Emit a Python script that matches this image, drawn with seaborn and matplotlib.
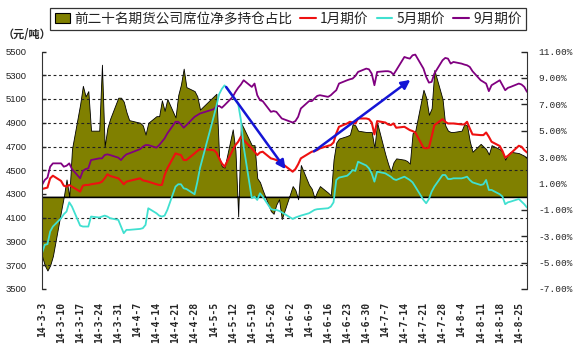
import numpy as np
import pandas as pd
import matplotlib
matplotlib.use("Agg")
import matplotlib.pyplot as plt
from matplotlib.patches import Patch
from matplotlib.lines import Line2D
import seaborn as sns

# trading days 2014-03-03 .. 2014-08-28 (Qingming, Labour day, Dragon boat closed)
holidays = ["2014-04-07", "2014-05-01", "2014-05-02", "2014-06-02"]
start_date, end_date = "2014-03-03", "2014-08-28"

# net long ratio of top-20 futures brokers, %  (one row per week)
net_long = [
    -4.5, -5.2, -5.6, -5.2, -4.5,
    -1.1, 0.0, 1.3, 0.0, 3.6,
    7.0, 8.4, 7.6, 8.0, 5.0,
    5.0, 10.0, 3.8, 5.2, 5.9,
    7.5, 7.5, 7.2, 6.4, 5.8,
    5.6, 5.4, 4.7, 5.6,
    6.1, 6.1, 7.3, 6.5, 7.4,
    6.0, 7.7, 8.5, 9.7, 8.3,
    8.0, 7.6, 6.6,
    7.6, 7.8, 3.0, 2.3, 2.2,
    5.1, 3.5, -1.5, 5.6, 5.2,
    3.9, 3.9, 1.4, 1.1, 0.5,
    -1.1, -1.3, -0.6, -0.2, -1.7,
    0.8, 0.5, -0.2, 2.4,
    0.9, 0.6, -0.1, 0.4, 0.8,
    0.3, 0.1, 2.8, 4.1, 4.4,
    4.6, 4.7, 5.5, 5.4, 5.0,
    4.9, 4.9, 4.9, 3.7, 5.6,
    3.2, 2.5, 1.9, 2.6, 2.9,
    2.8, 2.7, 2.5, 4.8, 5.0,
    8.1, 7.5, 6.2, 6.7, 9.6,
    7.4, 5.4, 5.0, 4.9, 4.9,
    5.0, 5.5, 5.4, 4.2, 3.4,
    4.0, 3.8, 3.6, 3.2, 3.9,
    3.6, 3.4, 2.8, 3.2, 3.4,
    3.3, 3.2, 3.1, 2.9,
]

# January contract price, yuan/t
jan_price = [
    4342, 4348, 4354, 4432, 4454,
    4410, 4370, 4362, 4376, 4362,
    4320, 4370, 4376, 4376, 4382,
    4393, 4404, 4432, 4466, 4452,
    4432, 4410, 4382, 4404, 4410,
    4432, 4415, 4410, 4404,
    4382, 4376, 4376, 4460, 4516,
    4642, 4634, 4628, 4586, 4586,
    4642, 4662, 4678,
    4670, 4650, 4600, 4558, 4530,
    4670, 4712, 4740, 4782, 4754,
    4684, 4656, 4628, 4650, 4656,
    4600, 4594, 4586, 4572, 4558,
    4488, 4510, 4550, 4600,
    4642, 4656, 4662, 4670, 4684,
    4706, 4712, 4734, 4810, 4866,
    4894, 4908, 4902, 4894, 4936,
    4936, 4930, 4902, 4802, 4914,
    4902, 4886, 4880, 4894, 4858,
    4866, 4852, 4838, 4830, 4818,
    4690, 4684, 4690, 4782, 4880,
    4930, 4908, 4894, 4894, 4894,
    4886, 4886, 4908, 4852, 4802,
    4796, 4796, 4818, 4782, 4740,
    4704, 4662, 4606, 4622, 4642,
    4706, 4698, 4670, 4650,
]

# May contract price, yuan/t
may_price = [
    3802, 3872, 3878, 3984, 4026,
    4096, 4130, 4152, 4230, 4194,
    4034, 4026, 4026, 4026, 4110,
    4102, 4110, 4118, 4110, 4096,
    4082, 4026, 3970, 3998, 3998,
    4006, 4012, 4040, 4180,
    4138, 4118, 4110, 4118, 4166,
    4362, 4382, 4382, 4348, 4342,
    4298, 4400, 4520,
    4950, 5040, 5140, 5185, 5215,
    5120, 5088, 5058, 4923, 4700,
    4264, 4278, 4250, 4306, 4278,
    4174, 4166, 4166, 4158, 4146,
    4090, 4102, 4110, 4118,
    4138, 4152, 4166, 4172, 4174,
    4180, 4194, 4230, 4418, 4438,
    4454, 4474, 4502, 4494, 4572,
    4540, 4516, 4474, 4404, 4488,
    4474, 4460, 4446, 4426, 4418,
    4446, 4432, 4418, 4398, 4362,
    4250, 4222, 4258, 4320, 4362,
    4460, 4460, 4426, 4426, 4432,
    4432, 4438, 4446, 4418, 4398,
    4376, 4382, 4418, 4334, 4334,
    4298, 4278, 4214, 4230, 4236,
    4258, 4236, 4214, 4186,
]

# September contract price, yuan/t
sep_price = [
    4376, 4418, 4438, 4530, 4558,
    4558, 4530, 4538, 4558, 4510,
    4432, 4494, 4510, 4516, 4586,
    4600, 4600, 4628, 4634, 4628,
    4606, 4586, 4614, 4634, 4642,
    4678, 4698, 4712, 4712,
    4690, 4712, 4740, 4768, 4810,
    4908, 4908, 4886, 4858, 4880,
    4950, 4964, 4978,
    5014, 5034, 5042, 5026, 5048,
    5118, 5160, 5194, 5222, 5258,
    5202, 5230, 5132, 5090, 5082,
    4992, 4998, 4992, 4964, 4936,
    4902, 4914, 4950, 5020,
    5082, 5082, 5104, 5126, 5132,
    5118, 5132, 5154, 5174, 5230,
    5258, 5266, 5272, 5294, 5328,
    5356, 5350, 5314, 5216, 5328,
    5334, 5334, 5328, 5306, 5342,
    5454, 5446, 5440, 5468, 5474,
    5356, 5286, 5238, 5244, 5314,
    5426, 5446, 5440, 5398, 5412,
    5398, 5390, 5384, 5370, 5334,
    5258, 5244, 5230, 5166, 5216,
    5258, 5216, 5174, 5194, 5202,
    5230, 5222, 5202, 5160,
]

legend_labels = ["前二十名期货公司席位净多持仓占比", "1月期价", "5月期价", "9月期价"]
unit_label = "（元/吨）"
left_ticks = list(range(3500, 5501, 200))
right_ticks = list(range(-7, 12, 2))
grid_levels = [3700, 3900, 4100, 4500, 4700, 4900, 5100, 5300]

# trend arrows (start, end)
arrows = [(("2014-05-09", 5220), ("2014-06-01", 4490)),
          (("2014-06-10", 4645), ("2014-07-17", 5275))]

days = pd.bdate_range(start_date, end_date)
days = days[~days.isin(pd.to_datetime(holidays))]
df = pd.DataFrame({"date": days, "net": net_long, "jan": jan_price,
                   "may": may_price, "sep": sep_price})

c_fill, c_red, c_cyan, c_purple = "#808000", "#EE1111", "#40E0D0", "#800080"

sns.set_style("white")
plt.rcParams["font.family"] = ["Noto Sans CJK SC", "DejaVu Sans"]

fig = plt.figure(figsize=(5.84, 3.56), dpi=100)
ax = fig.add_axes([42 / 584, 1 - 289 / 356, 485 / 584, 237.5 / 356])
ax2 = ax.twinx()
ax.set_zorder(ax2.get_zorder() + 1)
ax.patch.set_visible(False)

# net long ratio as area on the right axis
ax2.fill_between(df["date"], 0, df["net"], facecolor=c_fill,
                 edgecolor="black", linewidth=0.6)
ax2.axhline(0, color="black", lw=1.0)
ax2.set_ylim(-7, 11)
ax2.set_yticks(right_ticks)
ax2.set_yticklabels([f"{v:.2f}%" for v in right_ticks],
                    family="Liberation Mono", fontsize=6.8)

for v in grid_levels:
    ax.axhline(v, color="#222222", lw=0.8, ls=(0, (2.5, 2.5)), zorder=0.5)

sns.lineplot(data=df, x="date", y="sep", ax=ax, color=c_purple, lw=1.3)
sns.lineplot(data=df, x="date", y="jan", ax=ax, color=c_red, lw=1.5)
sns.lineplot(data=df, x="date", y="may", ax=ax, color=c_cyan, lw=1.3)

for (x0, y0), (x1, y1) in arrows:
    ax.annotate("", xy=(pd.Timestamp(x1), y1), xytext=(pd.Timestamp(x0), y0),
                arrowprops=dict(arrowstyle="-|>", color="#1515D5", lw=1.8,
                                mutation_scale=13), zorder=5)

ax.set_ylim(3500, 5500)
ax.set_yticks(left_ticks)
ax.set_yticklabels([str(v) for v in left_ticks], family="Liberation Sans",
                   fontsize=6.8, color="#222222")
ax.set_xlim(days[0], days[-1])
mondays = pd.date_range(start_date, "2014-08-25", freq="7D")
ax.set_xticks(mondays)
ax.set_xticklabels([f"{d.year % 100}-{d.month}-{d.day}" for d in mondays],
                   rotation=90, family="DejaVu Sans Mono", fontweight="bold",
                   fontsize=7.0)
ax.set_xlabel("")
ax.set_ylabel("")

ax.tick_params(axis="y", direction="in", length=3, pad=11, width=1)
ax.tick_params(axis="x", length=0, pad=9)
ax2.tick_params(axis="y", direction="in", length=4, pad=8, width=1)
for a in (ax, ax2):
    for s in ("top", "bottom"):
        a.spines[s].set_visible(False)
ax.spines["right"].set_visible(False)
ax2.spines["left"].set_visible(False)
ax.spines["left"].set_color("#333333")
ax2.spines["right"].set_color("#333333")

handles = [Patch(facecolor=c_fill, edgecolor="black", lw=0.8),
           Line2D([], [], color=c_red, lw=1.5),
           Line2D([], [], color=c_cyan, lw=1.5),
           Line2D([], [], color=c_purple, lw=1.5)]
leg = fig.legend(handles, legend_labels, loc="center",
                 bbox_to_anchor=(288 / 584, 1 - 19 / 356), ncol=4,
                 frameon=True, fancybox=False, edgecolor="#333333",
                 framealpha=1, fontsize=9.8, handlelength=1.15,
                 handleheight=0.8, handletextpad=0.3, columnspacing=0.6,
                 borderpad=0.3, borderaxespad=0)
leg.get_frame().set_linewidth(0.9)
for t in leg.get_texts():
    t.set_color("#222222")

fig.text(3 / 584, 1 - 34 / 356, unit_label, fontsize=8, fontweight="bold",
         va="center", ha="left")

fig.savefig("out.png", dpi=100)
